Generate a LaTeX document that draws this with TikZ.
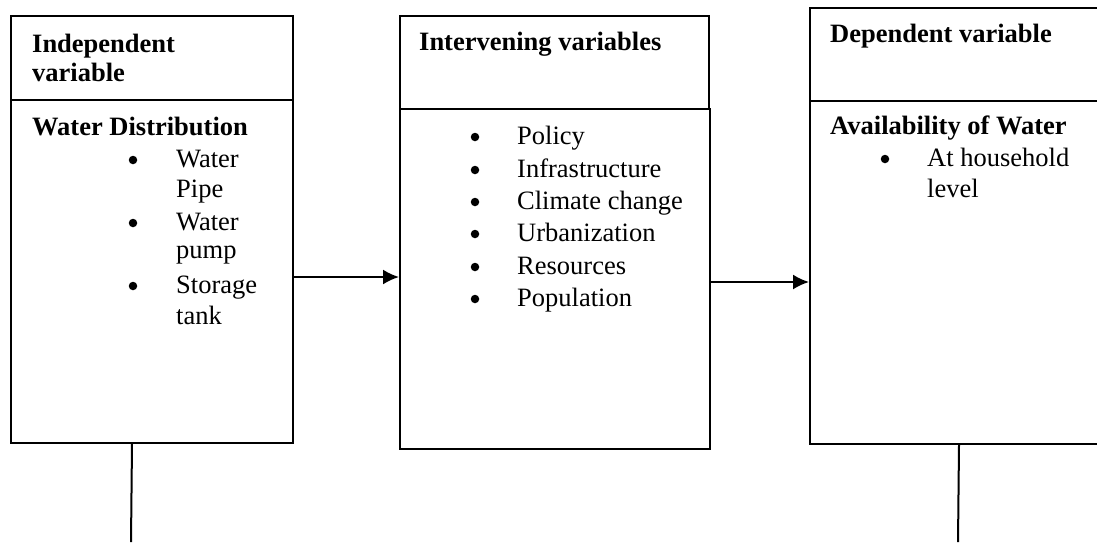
\documentclass[tikz,border=0pt]{standalone}
\usepackage{fontspec}
\setmainfont{Liberation Serif}
\usetikzlibrary{arrows.meta}
\begin{document}
\begin{tikzpicture}[x=1pt,y=-1pt,
  box/.style={draw, line width=2pt, inner sep=0pt, anchor=north west},
  txt/.style={anchor=base west, inner sep=0pt, font=\fontsize{26.5}{31}\selectfont},
  head/.style={anchor=base west, inner sep=0pt, font=\fontsize{26.5}{31}\selectfont\bfseries},
  bul/.style={circle, fill, inner sep=0pt, minimum size=8.5pt},
  conn/.style={line width=2pt},
  arr/.style={conn, -{Latex[length=16pt,width=15pt]}}]
\useasboundingbox[fill=white] (0,0) rectangle (1097,542);
% boxes
\node[box, minimum width=282pt, minimum height=84pt] (lt) at (10,15) {};
\node[box, minimum width=282pt, minimum height=343pt] (lb) at (10,99) {};
\node[box, minimum width=309pt, minimum height=93pt] (mt) at (399,15) {};
\node[box, minimum width=310pt, minimum height=340pt] (mb) at (399,108) {};
\node[box, minimum width=300pt, minimum height=93pt] (rt) at (809,7) {};
\node[box, minimum width=300pt, minimum height=343pt] (rb) at (809,100) {};
% left texts
\node[head] (l1) at (32,52) {Independent};
\node[head] (l2) at (32,81) {variable};
\node[head] (l3) at (32,135) {Water Distribution};
\node[bul] (lb1) at (133,160) {};
\node[bul] (lb2) at (133,223) {};
\node[bul] (lb3) at (133,286) {};
\node[txt] (li1) at (176,167) {Water};
\node[txt] (li2) at (176,197) {Pipe};
\node[txt] (li3) at (176,230) {Water};
\node[txt] (li4) at (176,258) {pump};
\node[txt] (li5) at (176,293) {Storage};
\node[txt] (li6) at (176,324) {tank};
% middle texts
\node[head] (m1) at (419,50) {Intervening variables};
\foreach \y/\t [count=\i] in {144/Policy,177/Infrastructure,209/Climate change,241/Urbanization,274/Resources,306/Population}{
  \node[bul] (mbul\i) at (475,\y-7) {};
  \node[txt] (mi\i) at (517,\y) {\t};
}
% right texts
\node[head] (r1) at (830,42) {Dependent variable};
\node[head] (r2) at (830,134) {Availability of Water};
\node[bul] (rb1) at (885,159) {};
\node[txt] (ri1) at (927,166) {At household};
\node[txt] (ri2) at (927,197) {level};
% connectors
\coordinate (s1) at ([yshift=-5.5pt]lb.east);
\draw[arr] (s1) -- (s1 -| mb.west);
\coordinate (s2) at ([yshift=-3pt]mb.east);
\draw[arr] (s2) -- (s2 -| rb.west);
\coordinate (v1) at ([xshift=-20pt]lb.south);
\coordinate (v1e) at (131,542);
\draw[conn] (v1) -- (v1e);
\coordinate (v2) at ([xshift=-1pt]rb.south);
\coordinate (v2e) at (958,542);
\draw[conn] (v2) -- (v2e);
\end{tikzpicture}
\end{document}
